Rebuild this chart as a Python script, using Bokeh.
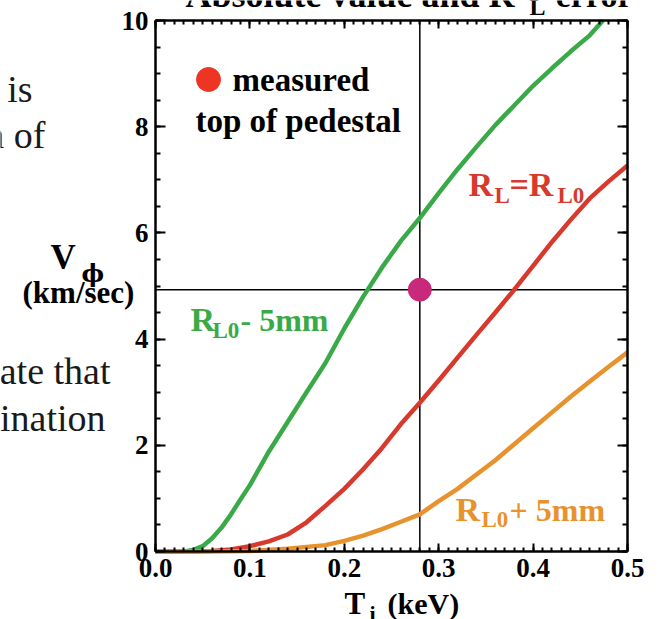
from bokeh.plotting import figure
from bokeh.models import (Range1d, LinearAxis, SingleIntervalTicker, CustomJSTickFormatter,
                          Label)
from bokeh.core.properties import value
from bokeh.embed import file_html
from bokeh.resources import INLINE

# ---------------- data ----------------
green_T = [0.0, 0.03, 0.04, 0.05, 0.06, 0.07, 0.08, 0.09, 0.10, 0.12, 0.14, 0.16, 0.18, 0.20,
           0.22, 0.24, 0.26, 0.28, 0.30, 0.32, 0.34, 0.36, 0.38, 0.40, 0.42, 0.44, 0.46, 0.474]
green_V = [0.0, 0.0, 0.03, 0.10, 0.25, 0.45, 0.70, 0.98, 1.25, 1.88, 2.44, 3.00, 3.55, 4.20,
           4.80, 5.35, 5.85, 6.28, 6.75, 7.20, 7.62, 8.03, 8.40, 8.77, 9.10, 9.42, 9.72, 10.0]

red_T = [0.0, 0.04, 0.06, 0.08, 0.10, 0.12, 0.14, 0.16, 0.18, 0.20, 0.22, 0.24, 0.26, 0.28,
         0.30, 0.32, 0.34, 0.36, 0.38, 0.40, 0.42, 0.44, 0.46, 0.48, 0.50]
red_V = [0.0, 0.0, 0.01, 0.04, 0.10, 0.19, 0.32, 0.55, 0.86, 1.18, 1.55, 1.95, 2.40, 2.80,
         3.22, 3.65, 4.08, 4.50, 4.93, 5.38, 5.83, 6.25, 6.65, 6.97, 7.27]

orange_T = [0.0, 0.06, 0.10, 0.14, 0.18, 0.20, 0.22, 0.24, 0.26, 0.28, 0.30, 0.32, 0.34,
            0.36, 0.38, 0.40, 0.42, 0.44, 0.46, 0.48, 0.50]
orange_V = [0.0, 0.0, 0.01, 0.05, 0.12, 0.20, 0.30, 0.42, 0.56, 0.70, 0.95, 1.18, 1.45,
            1.72, 2.02, 2.32, 2.62, 2.92, 3.20, 3.48, 3.75]

measured_T = 0.28
measured_V = 4.93

x_tick_values = [0.0, 0.1, 0.2, 0.3, 0.4, 0.5]
x_tick_labels = ["0.0", "0.1", "0.2", "0.3", "0.4", "0.5"]
y_tick_values = [0, 2, 4, 6, 8, 10]
y_tick_labels = ["0", "2", "4", "6", "8", "10"]

X_MIN, X_MAX = 0.0, 0.5
Y_MIN, Y_MAX = 0.0, 10.0

# ---------------- layout constants (pixels of the page) ----------------
W, H = 659, 619
PLOT_L, PLOT_R, PLOT_T, PLOT_B = 155, 627, 20, 551
sx = (PLOT_R - PLOT_L) / (X_MAX - X_MIN)
sy = (PLOT_B - PLOT_T) / (Y_MAX - Y_MIN)
x_range = Range1d(X_MIN - PLOT_L / sx, X_MAX + (W - PLOT_R) / sx)
y_range = Range1d(Y_MIN - (H - PLOT_B) / sy, Y_MAX + PLOT_T / sy)

FONT = "Liberation Serif"
p = figure(width=W, height=H, x_range=x_range, y_range=y_range,
           output_backend="svg", toolbar_location=None,
           x_axis_location=None, y_axis_location=None,
           min_border=0, min_border_left=0, min_border_right=0,
           min_border_top=0, min_border_bottom=0)
p.grid.visible = False
p.outline_line_color = None
p.background_fill_color = "white"
p.border_fill_color = "white"

empty = CustomJSTickFormatter(code="return ''")


def make_axis(interval, minor, loc, bounds, major_in, minor_in):
    ax = LinearAxis(ticker=SingleIntervalTicker(interval=interval, num_minor_ticks=minor),
                    formatter=empty, fixed_location=loc, bounds=bounds)
    ax.axis_line_width = 2.5
    ax.axis_line_color = "black"
    ax.major_tick_in = major_in
    ax.major_tick_out = 0
    ax.minor_tick_in = minor_in
    ax.minor_tick_out = 0
    ax.major_tick_line_width = 2
    ax.minor_tick_line_width = 2
    ax.major_tick_line_color = "black"
    ax.minor_tick_line_color = "black"
    ax.major_label_text_color = None
    ax.major_label_text_font_size = "0px"
    ax.major_label_standoff = 0
    ax.axis_label = None
    return ax


p.add_layout(make_axis(0.1, 10, Y_MIN, (X_MIN, X_MAX), 8, 4), "below")
p.add_layout(make_axis(0.1, 10, Y_MAX, (X_MIN, X_MAX), 8, 4), "above")
p.add_layout(make_axis(2, 4, X_MIN, (Y_MIN, Y_MAX), 10, 5), "left")
p.add_layout(make_axis(2, 4, X_MAX, (Y_MIN, Y_MAX), 10, 5), "right")

# tick labels
p.text(x=x_tick_values, y=[Y_MIN] * len(x_tick_values), text=x_tick_labels,
       text_font=value(FONT), text_font_style="bold", text_font_size=value("27px"),
       text_color="black", text_align="center", text_baseline="middle", y_offset=16)
p.text(x=[X_MIN] * len(y_tick_values), y=y_tick_values, text=y_tick_labels,
       text_font=value(FONT), text_font_style="bold", text_font_size=value("27px"),
       text_color="black", text_align="right", text_baseline="middle", x_offset=-7)

# reference lines through the measured point
p.segment(x0=[measured_T], y0=[Y_MIN], x1=[measured_T], y1=[Y_MAX], line_color="black", line_width=1.5)
p.segment(x0=[X_MIN], y0=[measured_V], x1=[X_MAX], y1=[measured_V], line_color="black", line_width=1.5)

GREEN = "#3aaa48"
RED = "#d8392c"
ORANGE = "#e8922e"
p.line(green_T, green_V, line_color=GREEN, line_width=4.5)
p.line(red_T, red_V, line_color=RED, line_width=4.5)
p.line(orange_T, orange_V, line_color=ORANGE, line_width=4.5)

p.scatter([measured_T], [measured_V], size=23, fill_color="#c8297a", line_color="#c8297a")


# helpers: place texts by pixel position on the page (alphabetic baseline py)
def dx(px):
    return X_MIN + (px - PLOT_L) / sx


def dy(py):
    return Y_MIN + (PLOT_B - py) / sy


def lab(txt, px, py, size, color="black", bold=True, align="left", font=FONT):
    mid = py - 0.33 * size
    p.add_layout(Label(x=dx(px), y=dy(mid), text=txt, text_font=font,
                       text_font_style="bold" if bold else "normal",
                       text_font_size="%dpx" % size, text_color=color, text_align=align,
                       text_baseline="middle"))


# legend-like note
p.scatter([dx(208)], [dy(79)], size=24, fill_color="#ee3524", line_color="#ee3524")
lab("measured", 232, 90, 33)
lab("top of pedestal", 195, 131, 33)

# curve labels
lab("R", 190, 330, 34, GREEN)
lab("L0", 212, 338, 23, GREEN)
lab("- 5mm", 240, 330, 32, GREEN)

lab("R", 468, 195, 34, RED)
lab("L", 494, 203, 23, RED)
lab("=R", 509, 195, 34, RED)
lab("L0", 557, 203, 23, RED)

lab("R", 455, 520, 34, ORANGE)
lab("L0", 481, 527, 23, ORANGE)
lab("+ 5mm", 509, 520, 32, ORANGE)

# title (cut at the top of the page)
lab("Absolute value and R", 185, 6, 36)
lab("L", 529, 14, 24)
lab("error", 632, 6, 34, align="right")

# axis labels
lab("V", 50, 269, 35)
lab("ϕ", 81, 281, 24, font="DejaVu Serif")
lab("(km/sec)", 22, 302, 31)
lab("T", 344, 613, 31)
lab("i", 369, 620, 22)
lab("(keV)", 387, 613, 30)

# fragments of slide text on the left
TXT = "#1a1a1a"
lab("is", 32, 101, 38, TXT, bold=False, align="right")
lab("n of", 45, 147, 38, TXT, bold=False, align="right")
lab("ate that", 110, 383, 38, TXT, bold=False, align="right")
lab("ination", 105, 430, 38, TXT, bold=False, align="right")

open("out.html", "w").write(file_html(p, INLINE))
